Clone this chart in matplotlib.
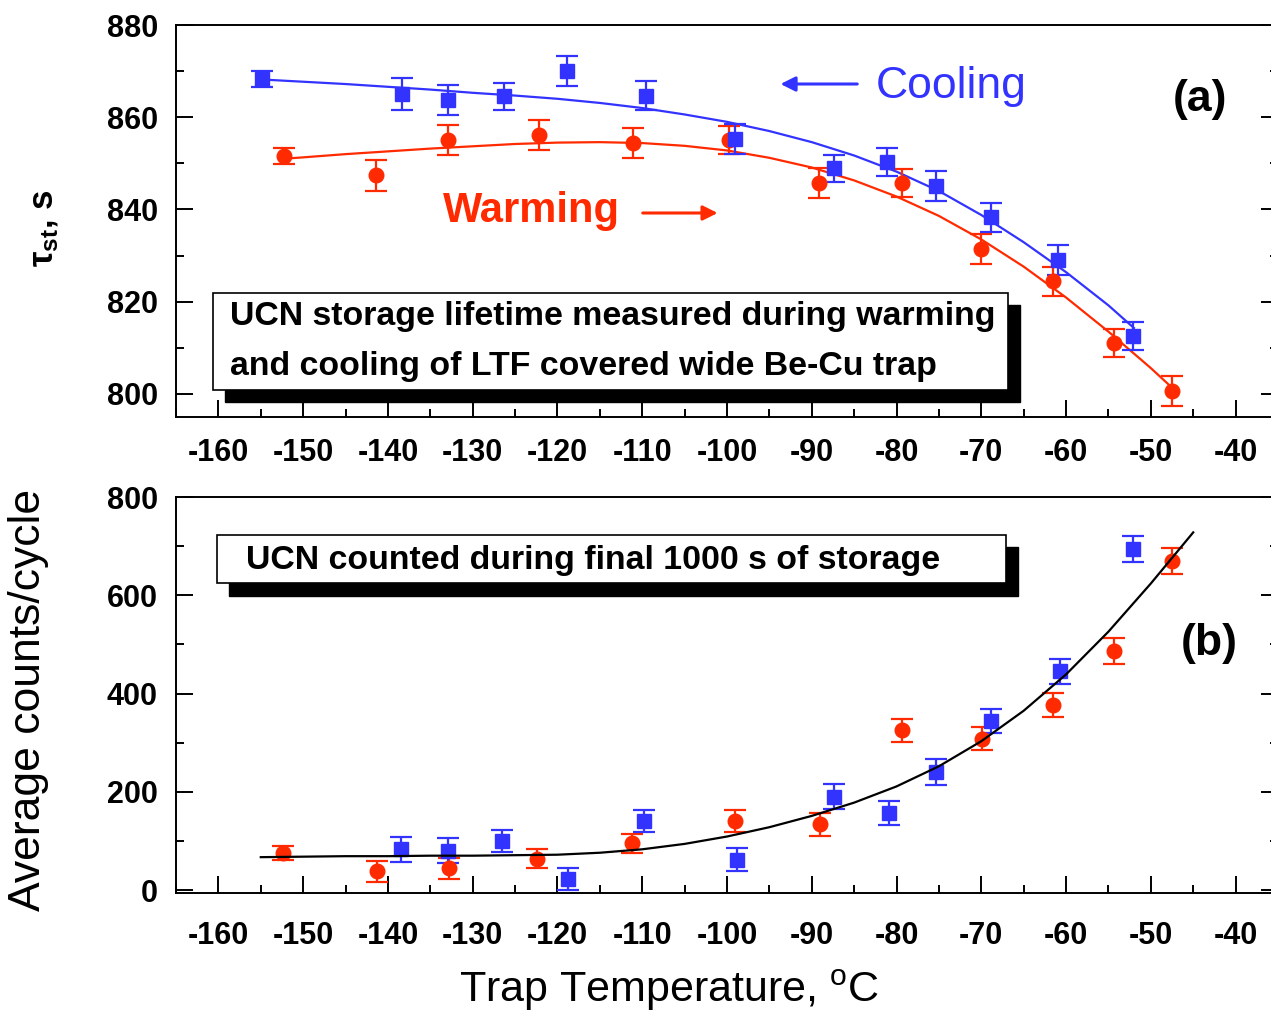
import matplotlib
matplotlib.use("Agg")
import matplotlib.pyplot as plt
from matplotlib.patches import Rectangle
from matplotlib.ticker import MultipleLocator

plt.rcParams['font.family'] = ['Liberation Sans', 'DejaVu Sans']
plt.rcParams['mathtext.fontset'] = 'custom'
plt.rcParams['mathtext.rm'] = 'Liberation Sans'
plt.rcParams['mathtext.it'] = 'Liberation Sans:italic'
plt.rcParams['mathtext.bf'] = 'Liberation Sans:bold'
plt.rcParams['axes.unicode_minus'] = False

BLUE = '#3333ff'
RED = '#ff2a00'

# ---- panel (a): storage lifetime ----
cool_T = [-154.9, -138.4, -132.9, -126.3, -118.9, -109.5, -99.0, -87.4, -81.1, -75.4, -68.8, -61.0, -52.1]
cool_tau = [868.3, 865.0, 863.8, 864.5, 870.0, 864.7, 855.3, 848.9, 850.3, 845.1, 838.3, 829.0, 812.6]
cool_tau_err = [1.8, 3.5, 3.3, 3.0, 3.3, 3.2, 3.2, 3.0, 3.0, 3.2, 3.2, 3.2, 3.0]

warm_T = [-152.3, -141.4, -132.9, -122.2, -111.1, -99.8, -89.1, -79.4, -70.0, -61.6, -54.4, -47.5]
warm_tau = [851.6, 847.4, 855.1, 856.1, 854.4, 855.0, 845.7, 845.8, 831.4, 824.4, 811.0, 800.6]
warm_tau_err = [1.7, 3.3, 3.3, 3.2, 3.2, 3.0, 3.2, 3.0, 3.2, 3.2, 3.0, 3.2]

# fit curves
cool_fit_T = [-155, -150, -145, -140, -135, -130, -125, -120, -115, -110, -105, -100,
              -95, -90, -85, -80, -75, -70, -65, -60, -55, -52]
cool_fit_tau = [868.2, 867.7, 867.2, 866.6, 866.0, 865.3, 864.7, 864.0, 863.1, 862.0, 860.6, 859.0,
                857.0, 854.6, 851.7, 848.2, 844.0, 838.8, 832.9, 826.4, 819.2, 814.3]
warm_fit_T = [-152.3, -150, -145, -140, -135, -130, -125, -120, -115, -110, -105, -100,
              -95, -90, -85, -80, -75, -70, -65, -60, -55, -50, -47]
warm_fit_tau = [851.0, 851.3, 852.0, 852.6, 853.2, 853.7, 854.2, 854.5, 854.6, 854.4, 853.8, 852.8,
                851.2, 849.1, 846.3, 842.8, 838.6, 833.5, 827.6, 820.9, 813.5, 805.6, 800.5]

# ---- panel (b): counts ----
cool_T_b = [-138.5, -132.9, -126.6, -118.8, -109.8, -98.8, -87.4, -80.9, -75.3, -68.8, -60.7, -52.1]
cool_counts = [83, 80, 100, 22, 140, 62, 190, 157, 240, 344, 445, 694]
cool_counts_err = [26, 25, 22, 22, 22, 24, 25, 24, 26, 24, 26, 26]

warm_T_b = [-152.4, -141.3, -132.8, -122.4, -111.2, -99.1, -89.0, -79.3, -69.9, -61.5, -54.3, -47.5]
warm_counts = [76, 38, 44, 64, 95, 141, 134, 325, 308, 377, 487, 670]
warm_counts_err = [14, 22, 22, 20, 20, 22, 23, 24, 23, 25, 27, 27]

fit_T_b = [-155, -150, -145, -140, -135, -130, -125, -120, -115, -110, -105, -100, -95, -90,
           -85, -80, -75, -70, -65, -60, -55, -50, -45]
fit_counts = [67, 68, 69, 69, 70, 70, 71, 72, 76, 83, 94, 109, 128, 151,
              178, 211, 252, 303, 365, 439, 526, 624, 728]

fig = plt.figure(figsize=(12.71, 10.17), dpi=100)
ax1 = fig.add_axes([0.1385, 0.590, 0.867, 0.3854])
ax2 = fig.add_axes([0.1385, 0.1219, 0.867, 0.3894])

eb = dict(ls='none', elinewidth=1.6, capsize=8, capthick=1.6, markersize=10.5)

ax1.plot(warm_fit_T, warm_fit_tau, color=RED, lw=1.6)
ax1.plot(cool_fit_T, cool_fit_tau, color=BLUE, lw=1.6)
ax1.errorbar(warm_T, warm_tau, yerr=warm_tau_err, marker='o', color=RED, **eb)
ax1.errorbar(cool_T, cool_tau, yerr=cool_tau_err, marker='s', color=BLUE, **eb)

ax2.plot(fit_T_b, fit_counts, color='black', lw=1.6, zorder=3)
ax2.errorbar(warm_T_b, warm_counts, yerr=warm_counts_err, marker='o', color=RED, **eb)
ax2.errorbar(cool_T_b, cool_counts, yerr=cool_counts_err, marker='s', color=BLUE, **eb)

ax1.set_xlim(-165, -35)
ax1.set_ylim(795, 880)
ax1.yaxis.set_major_locator(MultipleLocator(20))
ax1.yaxis.set_minor_locator(MultipleLocator(10))

ax2.set_xlim(-165, -35)
ax2.set_ylim(-6, 800)
ax2.yaxis.set_major_locator(MultipleLocator(200))
ax2.yaxis.set_minor_locator(MultipleLocator(100))

for ax in (ax1, ax2):
    ax.xaxis.set_major_locator(MultipleLocator(10))
    ax.xaxis.set_minor_locator(MultipleLocator(5))
    ax.tick_params(which='both', direction='in', top=False, right=True,
                   labelright=False, width=1.4)
    ax.tick_params(which='major', length=12, labelsize=22, pad=13)
    ax.tick_params(which='minor', length=6)
    for lab in ax.get_xticklabels() + ax.get_yticklabels():
        lab.set_fontweight('bold')
    for s in ax.spines.values():
        s.set_linewidth(1.4)
ax1.tick_params(axis='x', which='major', pad=15)
ax2.tick_params(axis='x', which='major', pad=20)

# boxes with drop shadow
ax1.add_patch(Rectangle((0.0445, 0.0383), 0.7214, 0.2474, transform=ax1.transAxes,
                        facecolor='black', edgecolor='black', zorder=5))
ax1.add_patch(Rectangle((0.0336, 0.0689), 0.7214, 0.2474, transform=ax1.transAxes,
                        facecolor='white', edgecolor='black', lw=1.2, zorder=6))
ax1.text(0.049, 0.257, 'UCN storage lifetime measured during warming', transform=ax1.transAxes,
         fontsize=24.4, fontweight='bold', va='center', ha='left', zorder=7)
ax1.text(0.049, 0.130, 'and cooling of LTF covered wide Be-Cu trap', transform=ax1.transAxes,
         fontsize=24.4, fontweight='bold', va='center', ha='left', zorder=7)

ax2.add_patch(Rectangle((0.0481, 0.7512), 0.716, 0.1218, transform=ax2.transAxes,
                        facecolor='black', edgecolor='black', zorder=5))
ax2.add_patch(Rectangle((0.0372, 0.7817), 0.716, 0.1218, transform=ax2.transAxes,
                        facecolor='white', edgecolor='black', lw=1.2, zorder=6))
ax2.text(0.0635, 0.840, 'UCN counted during final 1000 s of storage', transform=ax2.transAxes,
         fontsize=24.4, fontweight='bold', va='center', ha='left', zorder=7)

# Cooling / Warming labels with arrows
ax1.text(0.635, 0.844, 'Cooling', transform=ax1.transAxes, color=BLUE,
         fontsize=32, va='center', ha='left')
ax1.annotate('', xy=(0.546, 0.8495), xytext=(0.6207, 0.8495), xycoords='axes fraction',
             arrowprops=dict(arrowstyle='-|>', color=BLUE, lw=2.2, mutation_scale=22))
ax1.text(0.2423, 0.5255, 'Warming', transform=ax1.transAxes, color=RED,
         fontsize=30, fontweight='bold', va='center', ha='left')
ax1.annotate('', xy=(0.494, 0.5204), xytext=(0.421, 0.5204), xycoords='axes fraction',
             arrowprops=dict(arrowstyle='-|>', color=RED, lw=2.2, mutation_scale=22))

ax1.text(0.929, 0.8087, '(a)', transform=ax1.transAxes, fontsize=32, fontweight='bold',
         va='center', ha='center')
ax2.text(0.938, 0.629, '(b)', transform=ax2.transAxes, fontsize=32, fontweight='bold',
         va='center', ha='center')

fig.text(0.035, 1 - 228 / 1017, r'$\mathbf{\tau_{st}}$, s', rotation=90, fontsize=25,
         fontweight='bold', va='center', ha='center')
fig.text(29 / 1271, 1 - 700 / 1017, 'Average counts/cycle', rotation=90, fontsize=32,
         va='center', ha='center')
fig.text(669 / 1271, 1 - 990 / 1017, r'Trap Temperature, $^{\rm o}$C', fontsize=31,
         va='center', ha='center')

fig.savefig('out.png', dpi=100)
